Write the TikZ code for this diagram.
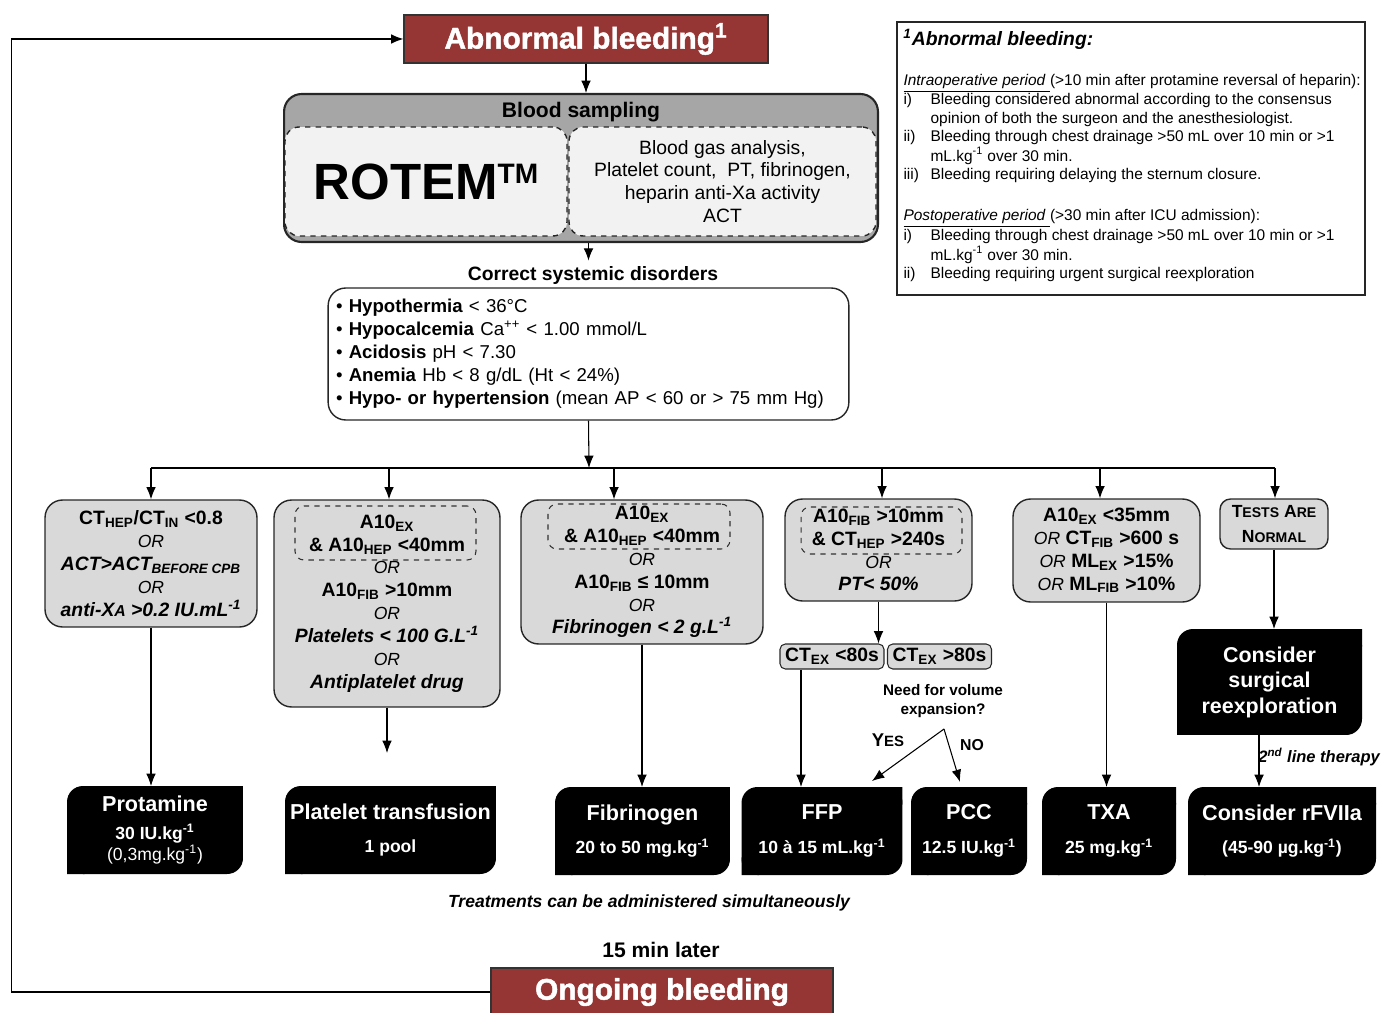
\documentclass[tikz,border=0pt]{standalone}
\usepackage{fontspec}
\setmainfont{Liberation Sans}
\newfontfamily\heavyfont{Liberation Sans}[BoldFeatures={FakeBold=1.5}]
\usetikzlibrary{arrows.meta}
\definecolor{bleedred}{RGB}{150,54,52}
\definecolor{bloodgray}{RGB}{166,166,166}
\definecolor{innergray}{RGB}{242,242,242}
\definecolor{testgray}{RGB}{217,217,217}
\newcommand{\subx}[1]{\textsubscript{#1}}
\newcommand{\supx}[1]{\textsuperscript{#1}}
\newcommand{\orx}{{\mdseries\itshape\fontsize{10}{13}\selectfont OR}}
\tikzset{
  redbox/.style={draw=black!80, thick, fill=bleedred, text=white, inner sep=0pt,
    font=\heavyfont\bfseries\fontsize{17}{20}\selectfont},
  bloodbox/.style={draw=black!85, very thick, fill=bloodgray, rounded corners=10pt},
  dashbox/.style={draw=black!85, thick, dashed, fill=innergray, rounded corners=8pt, inner sep=0pt},
  sysbox/.style={draw=black!85, thick, fill=white, rounded corners=10pt},
  testbox/.style={draw=black!85, thick, fill=testgray, rounded corners=10pt, align=center,
    inner sep=0pt, font=\bfseries\fontsize{11}{13}\selectfont},
  dashin/.style={draw=black!80, dashed, rounded corners=5pt},
  ctbox/.style={draw=black!85, fill=testgray, rounded corners=3pt, inner sep=0pt,
    minimum width=2.08cm, minimum height=0.5cm, font=\bfseries\fontsize{11}{13}\selectfont},
  drugbox/.style={fill=black, text=white, rounded corners=9pt, align=center, inner sep=0pt, outer sep=0pt,
    minimum height=1.76cm, font=\bfseries\fontsize{12.3}{19.3}\selectfont},
}
\begin{document}
\begin{tikzpicture}[x=0.02cm, y=-0.02cm, line width=0.6pt, >={Latex[length=7pt,width=5.5pt]}]
  \useasboundingbox (0,0) rectangle (1385,1013);
  % top part
  \node[redbox, minimum width=7.28cm, minimum height=0.96cm] (ab) at (586,39) {Abnormal bleeding\supx{1}};
  \node[bloodbox, minimum width=11.88cm, minimum height=2.96cm] (blood) at (581,168) {};
  \node[font=\bfseries\fontsize{12}{14}\selectfont] (bloodtitle) at (581,112) {Blood sampling};
  \node[dashbox, minimum width=5.64cm, minimum height=2.18cm, font=\bfseries\fontsize{29}{29}\selectfont] (rotem) at (426,181.5)
    {ROTEM\raisebox{9pt}{\fontsize{16}{16}\selectfont TM}};
  \node[dashbox, minimum width=6.14cm, minimum height=2.18cm, align=center, font=\fontsize{11}{13}\selectfont] (lab) at (722.5,181.5)
    {Blood gas analysis,\\Platelet count,\ \ PT, fibrinogen,\\heparin anti-Xa activity\\ACT};
  \node[font=\bfseries\fontsize{11}{13}\selectfont] (systitle) at (593,276) {Correct systemic disorders};
  \node[sysbox, text width=10.1cm, align=left, inner xsep=4.5pt, inner ysep=0pt, minimum height=2.64cm,
    font=\fontsize{10.6}{13.1}\selectfont] (sys) at (588.5,354)
    {\textbullet\ \textbf{Hypothermia} < 36°C\\
     \textbullet\ \textbf{Hypocalcemia} Ca\supx{++} < 1.00 mmol/L\\
     \textbullet\ \textbf{Acidosis} pH < 7.30\\
     \textbullet\ \textbf{Anemia} Hb < 8 g/dL (Ht < 24\%)\\
     \textbullet\ \textbf{Hypo- or hypertension} (mean AP < 60 or > 75 mm Hg)};

  % footnote
  \node[draw=black!85, thick, minimum width=9.36cm, minimum height=5.46cm] (foot) at (1131,158.5) {};
  \node[anchor=west, font=\bfseries\itshape\fontsize{11}{13}\selectfont] (foottitle) at (897,39) {\supx{1}Abnormal bleeding:};
  \node[anchor=north west, inner sep=0pt, font=\fontsize{8.8}{10.4}\selectfont] (footbody) at (903,72)
    {\begin{tabular}{@{}p{15.4pt}@{}l@{}}
      \multicolumn{2}{@{}l@{}}{\underline{\textit{Intraoperative period }}(>10 min after protamine reversal of heparin):}\\
      i) & Bleeding considered abnormal according to the consensus\\
         & opinion of both the surgeon and the anesthesiologist.\\
      ii) & Bleeding through chest drainage >50 mL over 10 min or >1\\
         & mL.kg\supx{-1} over 30 min.\\
      iii) & Bleeding requiring delaying the sternum closure.\\[13.3pt]
      \multicolumn{2}{@{}l@{}}{\underline{\textit{Postoperative period }}(>30 min after ICU admission):}\\
      i) & Bleeding through chest drainage >50 mL over 10 min or >1\\
         & mL.kg\supx{-1} over 30 min.\\
      ii) & Bleeding requiring urgent surgical reexploration
    \end{tabular}};

  % tests
  \node[testbox, minimum width=4.24cm, minimum height=2.54cm] (b1) at (151,563.5)
    {CT\subx{HEP}/CT\subx{IN} <0.8\\ \orx\\ \textit{ACT>ACT\subx{BEFORE CPB}}\\ \orx\\ \textit{anti-X{\small A} >0.2 IU.mL\supx{-1}}};
  \node[testbox, minimum width=4.52cm, minimum height=4.14cm] (b2) at (387,603.5)
    {A10\subx{EX}\\ \& A10\subx{HEP} <40mm\\ \orx\\ A10\subx{FIB} >10mm\\ \orx\\ \textit{Platelets < 100 G.L\supx{-1}}\\ \orx\\ \textit{Antiplatelet drug}};
  \node[dashin, minimum width=3.62cm, minimum height=1.08cm] (b2in) at (385.5,533) {};
  \node[testbox, minimum width=4.84cm, minimum height=2.88cm] (b3) at (642,572)
    {A10\subx{EX}\\ \& A10\subx{HEP} <40mm\\ \orx\\ A10\subx{FIB} ≤ 10mm\\ \orx\\ \textit{Fibrinogen < 2 g.L\supx{-1}}};
  \node[dashin, minimum width=3.64cm, minimum height=0.9cm] (b3in) at (639,526.5) {};
  \node[testbox, minimum width=3.74cm, minimum height=2.04cm] (b4) at (878.5,550)
    {A10\subx{FIB} >10mm\\ \& CT\subx{HEP} >240s\\ \orx\\ \textit{PT< 50\%}};
  \node[dashin, minimum width=3.22cm, minimum height=0.94cm] (b4in) at (881.5,530.5) {};
  \node[testbox, minimum width=3.74cm, minimum height=2.06cm] (b5) at (1106.5,550.5)
    {A10\subx{EX} <35mm\\ \orx{} CT\subx{FIB} >600 s\\ \orx{} ML\subx{EX} >15\%\\ \orx{} ML\subx{FIB} >10\%};
  \node[testbox, rounded corners=6pt, minimum width=2.16cm, minimum height=1cm, font=\bfseries\fontsize{10}{13.7}\selectfont] (b6) at (1274,524)
    {T{\fontsize{8}{10}\selectfont ESTS} A{\fontsize{8}{10}\selectfont RE}\\N{\fontsize{8}{10}\selectfont ORMAL}};
  \node[ctbox] (ctl) at (832,656.5) {CT\subx{EX} <80s};
  \node[ctbox] (ctr) at (939.5,656.5) {CT\subx{EX} >80s};
  \node[align=center, font=\bfseries\fontsize{8.7}{10.8}\selectfont] (need) at (943,701) {Need for volume\\expansion?};
  \node[font=\bfseries\fontsize{10.5}{12}\selectfont] (yes) at (888,740) {Y{\fontsize{8.5}{10}\selectfont ES}};
  \node[font=\bfseries\fontsize{9}{11}\selectfont] (no) at (972,745) {NO};
  \coordinate (apex) at (944,729);

  % treatments
  \node[drugbox, minimum width=3.52cm, font=\bfseries\fontsize{12.3}{12}\selectfont] (prot) at (155,830)
    {Protamine\\[3.4pt]{\fontsize{10}{12}\selectfont 30 IU.kg\supx{-1}}\\{\mdseries\fontsize{10}{12}\selectfont (0,3mg.kg\supx{-1})}};
  \node[drugbox, minimum width=4.22cm] (plat) at (390.5,830) {Platelet transfusion\\{\fontsize{10}{12}\selectfont 1 pool}};
  \node[drugbox, minimum width=3.5cm] (fib) at (642.5,831) {Fibrinogen\\{\fontsize{10}{12}\selectfont 20 to 50 mg.kg\supx{-1}}};
  \node[drugbox, minimum width=3.22cm] (ffp) at (822,831) {FFP\\{\fontsize{10}{12}\selectfont 10 à 15 mL.kg\supx{-1}}};
  \node[drugbox, minimum width=2.32cm] (pcc) at (969,831) {PCC\\{\fontsize{10}{12}\selectfont 12.5 IU.kg\supx{-1}}};
  \node[drugbox, minimum width=2.68cm] (txa) at (1109,831) {TXA\\{\fontsize{10}{12}\selectfont 25 mg.kg\supx{-1}}};
  \node[drugbox, minimum width=3.76cm] (rf) at (1282,831) {Consider rFVIIa\\{\fontsize{10}{12}\selectfont (45-90 µg.kg\supx{-1})}};
  \node[drugbox, minimum width=3.7cm, minimum height=2.12cm, font=\bfseries\fontsize{12.2}{14.5}\selectfont] (surg) at (1269.5,682)
    {Consider\\surgical\\reexploration};
  \foreach \n in {prot,plat,fib,ffp,pcc,txa,rf,surg}
    \fill (\n.north east) rectangle ++(-10pt,-10pt) (\n.south west) rectangle ++(10pt,10pt);
  \node[anchor=west, font=\bfseries\itshape\fontsize{9.4}{11}\selectfont] (second) at (1252,757) {2\supx{nd} line therapy};
  \node[font=\bfseries\itshape\fontsize{10}{12}\selectfont] (simul) at (649,903) {Treatments can be administered simultaneously};
  \node[font=\bfseries\fontsize{12}{14}\selectfont] (later) at (661,950) {15 min later};
  \node[redbox, minimum width=6.84cm, minimum height=0.96cm] (ong) at (662,992) {Ongoing bleeding};

  % connectors
  \draw[->] (ab.south) -- (ab.south |- blood.north);
  \draw[->] (sys.north |- blood.south) -- (sys.north |- systitle.north);
  \coordinate (bus) at (589,468);
  \draw[->] (sys.south) -- (bus);
  \draw (151,468) -- (1275,468);
  \foreach \x/\n in {151/b1,389/b2,614/b3,882/b4,1100/b5,1275/b6}
    \draw[->] (\x,468) -- (\x,468 |- \n.north);
  \draw[->] (b1.south) -- (b1.south |- prot.north);
  \draw[->, shorten >=0.66cm] (b2.south) -- (b2.south |- plat.north);
  \draw[->] (b3.south) -- (b3.south |- fib.north);
  \draw[->] (b4.south) -- (b4.south |- ctl.north);
  \draw[->] ([xshift=-0.62cm]ctl.south) -- ([xshift=-0.62cm]ctl.south |- ffp.north);
  \draw[->] (apex) -- ([xshift=1cm,yshift=0.12cm]ffp.north);
  \draw[->] (apex) -- ([xshift=-0.18cm,yshift=0.1cm]pcc.north);
  \draw[->] (b5.south) -- (b5.south |- txa.north);
  \draw[->] (b6.south) -- (b6.south |- surg.north);
  \draw[->] ([xshift=-0.21cm]surg.south) -- ([xshift=-0.21cm]surg.south |- rf.north);
  \draw[->] (ong.west) -- ++(-479,0) |- (ab.west);
\end{tikzpicture}
\end{document}
